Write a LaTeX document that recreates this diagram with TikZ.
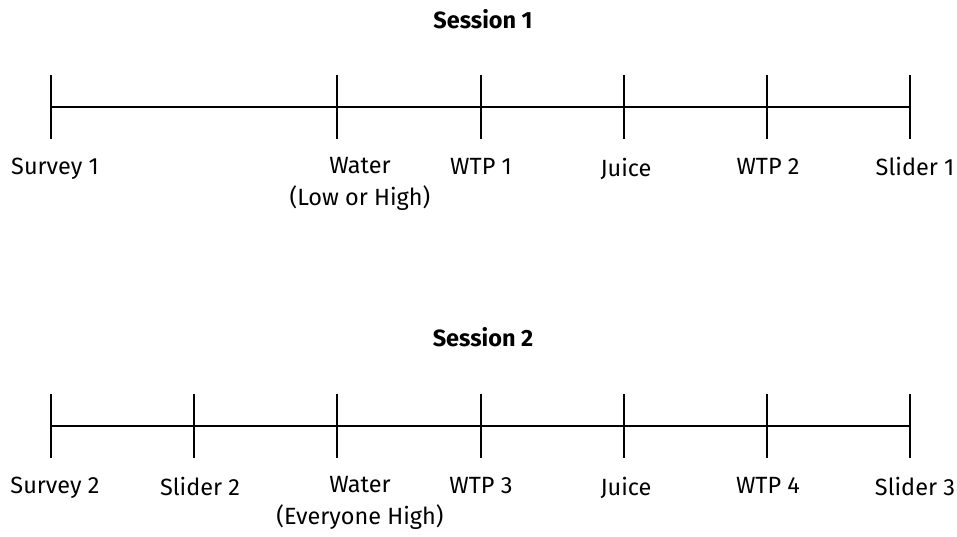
\documentclass[tikz,border=0pt]{standalone}
\usepackage{fontspec}
\setmainfont{Fira Sans}
\usepackage{tikz}
\usetikzlibrary{positioning, calc}

\begin{document}
\begin{tikzpicture}[
				x=0.75pt, y=-0.75pt,
				lbl/.style={anchor=base, inner sep=0pt, align=center, font=\fontsize{17.6}{24}\selectfont},
				title/.style={anchor=base, inner sep=0pt, font=\fontsize{17.6}{24}\selectfont\bfseries},
				axis/.style={line width=1.5pt, draw=black},
				tick/.style={line width=1.5pt, draw=black}
				]
				\useasboundingbox (0,0) rectangle (957,536);

				% Session 1
				\node[title] (ttlA) at (483,28) {Session 1};
				\coordinate (surveyA) at (51,107);
				\coordinate (waterA) at (337,107);
				\coordinate (wtpA) at (481,107);
				\coordinate (juiceA) at (624,107);
				\coordinate (wtpB) at (767,107);
				\coordinate (sliderA) at (910,107);
				\draw[axis] (surveyA) -- (waterA) -- (wtpA) -- (juiceA) -- (wtpB) -- (sliderA);
				\foreach \c in {surveyA, waterA, wtpA, juiceA, wtpB, sliderA}
					\draw[tick] (\c) ++(0,-32) -- ++(0,64);
				\node[lbl] (lsurveyA) at (55,174) {Survey 1};
				\node[lbl] (lwaterA) at (360,205) {Water\\(Low or High)};
				\node[lbl] (lwtpA) at (481,174) {WTP 1};
				\node[lbl] (ljuiceA) at (626,176) {Juice};
				\node[lbl] (lwtpB) at (768,174) {WTP 2};
				\node[lbl] (lsliderA) at (915,175) {Slider 1};

				% Session 2
				\node[title] (ttlB) at (483,346) {Session 2};
				\coordinate (surveyB) at (51,426);
				\coordinate (sliderB) at (194,426);
				\coordinate (waterB) at (337,426);
				\coordinate (wtpC) at (481,426);
				\coordinate (juiceB) at (624,426);
				\coordinate (wtpD) at (767,426);
				\coordinate (sliderC) at (910,426);
				\draw[axis] (surveyB) -- (sliderB) -- (waterB) -- (wtpC) -- (juiceB) -- (wtpD) -- (sliderC);
				\foreach \c in {surveyB, sliderB, waterB, wtpC, juiceB, wtpD, sliderC}
					\draw[tick] (\c) ++(0,-32) -- ++(0,64);
				\node[lbl] (lsurveyB) at (55,493) {Survey 2};
				\node[lbl] (lsliderB) at (200,495) {Slider 2};
				\node[lbl] (lwaterB) at (360,524) {Water\\(Everyone High)};
				\node[lbl] (lwtpC) at (481,493) {WTP 3};
				\node[lbl] (ljuiceB) at (626,495) {Juice};
				\node[lbl] (lwtpD) at (768,493) {WTP 4};
				\node[lbl] (lsliderC) at (915,495) {Slider 3};
			\end{tikzpicture}
\end{document}
